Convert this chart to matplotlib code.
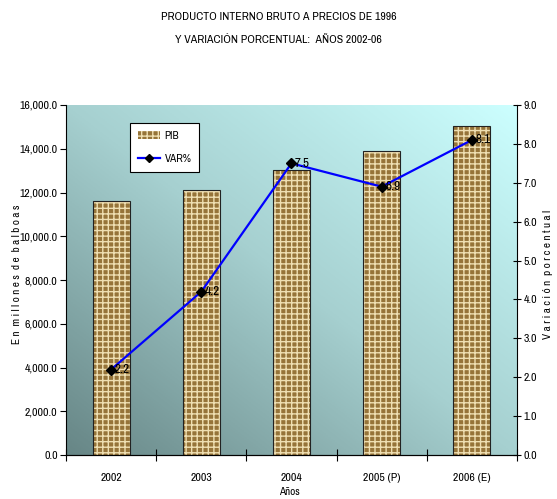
import numpy as np
import matplotlib.pyplot as plt
from matplotlib.colors import LinearSegmentedColormap
from matplotlib.patches import Patch
from matplotlib.lines import Line2D

years = ["2002", "2003", "2004", "2005 (P)", "2006 (E)"]
pib = [11620, 12110, 13030, 13920, 15050]
var = [2.2, 4.2, 7.5, 6.9, 8.1]

plt.rcParams['font.family'] = ['Liberation Sans Narrow', 'Archivo Narrow', 'PT Sans Narrow',
                               'Roboto Condensed', 'Liberation Sans', 'DejaVu Sans']

fig = plt.figure(figsize=(5.57, 4.99), dpi=100)
ax = fig.add_axes([0.1185, 0.088, 0.8095, 0.7016])

# diagonal gradient background
gx, gy = np.meshgrid(np.linspace(0, 1, 200), np.linspace(0, 1, 200))
grad = (gx + gy) / 2
cmap = LinearSegmentedColormap.from_list("bg", ["#678686", "#a6d0d0", "#ccffff"])
ax.imshow(grad, cmap=cmap, origin="lower", extent=[0, 1, 0, 1],
          transform=ax.transAxes, aspect="auto", zorder=0)

x = np.arange(len(years))
ax.bar(x, pib, width=0.41, color="#967439", hatch="+++", edgecolor="#efdfb2",
       linewidth=0, zorder=2)
ax.bar(x, pib, width=0.41, fill=False, edgecolor="#222222", linewidth=0.8, zorder=3)

ax.set_xlim(-0.5, 4.5)
ax.set_ylim(0, 16000)
ax.set_yticks(np.arange(0, 16001, 2000))
ax.set_yticklabels([f"{v:,.1f}" for v in np.arange(0, 16001, 2000)], fontsize=8.5)
ax.set_xticks(x)
ax.set_xticklabels(years, fontsize=8.5)
ax.set_xticks(np.arange(-0.5, 5, 1), minor=True)
ax.tick_params(axis="x", which="major", length=0, pad=13)
ax.tick_params(axis="x", which="minor", length=8, direction="inout", width=0.8)
ax.tick_params(axis="y", length=4, direction="out", width=0.8, pad=2)
ax.spines["top"].set_visible(False)
ax.spines["right"].set_visible(False)

ax2 = ax.twinx()
ax2.plot(x, var, color="#0000ff", lw=1.6, marker="D", markersize=5,
         markerfacecolor="black", markeredgecolor="black", zorder=5)
for xi, v in zip(x, var):
    ax2.text(xi + 0.04, v, f"{v:.1f}", fontsize=9.5, va="center", ha="left", zorder=6)
ax2.set_ylim(0, 9)
ax2.set_yticks(np.arange(0, 9.1, 1))
ax2.set_yticklabels([f"{v:.1f}" for v in np.arange(0, 9.1, 1)], fontsize=8.5)
ax2.tick_params(axis="y", length=6, direction="inout", width=0.8, pad=2)
ax2.spines["top"].set_visible(False)
ax2.spines["left"].set_visible(False)

# axis titles
fig.text(0.031, 0.45, "E n  m i l l o n e s  d e  b a l b o a s", rotation=90,
         ha="center", va="center", fontsize=8)
fig.text(0.984, 0.45, "V a r i a c i ó n  p o r c e n t u a l", rotation=90,
         ha="center", va="center", fontsize=8)
fig.text(0.52, 0.014, "Años", ha="center", va="center", fontsize=8)

# legend
handles = [Patch(facecolor="#967439", hatch="+++", edgecolor="#efdfb2", linewidth=0),
           Line2D([0], [0], color="#0000ff", lw=1.6, marker="D", markersize=4,
                  markerfacecolor="black", markeredgecolor="black")]
leg = ax2.legend(handles, ["PIB", "VAR%"], loc="upper left",
                 bbox_to_anchor=(0.13, 0.965), fontsize=8, fancybox=False,
                 framealpha=1, edgecolor="black", handlelength=2.0,
                 labelspacing=1.2, borderpad=0.7, handletextpad=0.4)
leg.get_frame().set_linewidth(0.8)

fig.text(0.5, 0.966, "PRODUCTO INTERNO BRUTO A PRECIOS DE 1996", ha="center",
         va="center", fontsize=8.5)
fig.text(0.5, 0.92, "Y VARIACIÓN PORCENTUAL:  AÑOS 2002-06", ha="center",
         va="center", fontsize=8.5)

fig.savefig("out.png", dpi=100)
